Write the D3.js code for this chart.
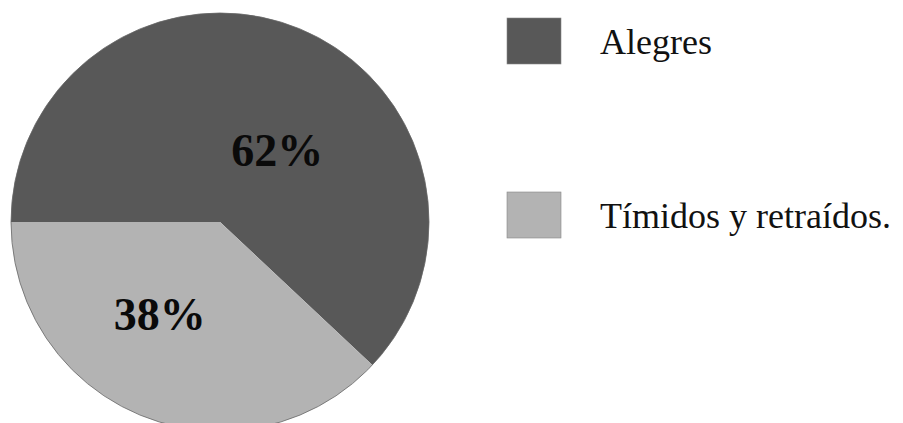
<!DOCTYPE html>
<html>
<head>
<meta charset="utf-8">
<script src="https://cdn.jsdelivr.net/npm/d3@7"></script>
<style>
  body { margin: 0; background: #fff; }
</style>
</head>
<body>
<div id="chart"></div>
<script>
const categories = ["Alegres", "Tímidos y retraídos."];
const percents = [62, 38];
const colors = ["#585858", "#b3b3b3"];

class PieChart {
  constructor(options) {
    this.options = Object.assign(this.defaultOptions(), options);
    this.data = categories.map((name, i) => ({ name: name, value: percents[i] }));
    this.svg = this.buildSvg();
    this.drawSlices();
    this.drawLabels();
    this.drawLegend();
  }

  defaultOptions() {
    return {
      width: 903,
      height: 423,
      cx: 220,
      cy: 222,
      radius: 209,
      font: "'Liberation Serif', 'Times New Roman', serif"
    };
  }

  buildSvg() {
    return d3.select(this.options.el).append("svg")
      .attr("width", this.options.width)
      .attr("height", this.options.height)
      .attr("viewBox", [0, 0, this.options.width, this.options.height]);
  }

  arcs() {
    // first slice starts at 9 o'clock and runs clockwise
    return d3.pie()
      .sort(null)
      .value(d => d.value)
      .startAngle(-Math.PI / 2)
      .endAngle(Math.PI * 1.5)(this.data);
  }

  drawSlices() {
    const o = this.options;
    const arc = d3.arc().innerRadius(0).outerRadius(o.radius);
    this.color = d3.scaleOrdinal().domain(categories).range(colors);
    const g = this.svg.append("g").attr("transform", `translate(${o.cx},${o.cy})`);
    g.selectAll("path")
      .data(this.arcs())
      .join("path")
      .attr("d", arc)
      .attr("fill", d => this.color(d.data.name));
    g.append("circle")
      .attr("r", o.radius)
      .attr("fill", "none")
      .attr("stroke", "#666")
      .attr("stroke-width", 0.8);
  }

  drawLabels() {
    const o = this.options;
    const labelArc = d3.arc().innerRadius(o.radius * 0.6).outerRadius(o.radius * 0.6);
    // labels sit off the centroids, as in the original
    const offsets = [[11, 61], [-14, -9]];
    this.svg.append("g")
      .attr("transform", `translate(${o.cx},${o.cy})`)
      .selectAll("text")
      .data(this.arcs())
      .join("text")
      .attr("x", (d, i) => labelArc.centroid(d)[0] + offsets[i][0])
      .attr("y", (d, i) => labelArc.centroid(d)[1] + offsets[i][1])
      .attr("text-anchor", "middle")
      .attr("font-family", o.font)
      .attr("font-weight", "bold")
      .attr("font-size", 46)
      .attr("fill", "#0a0a0a")
      .text(d => `${d.data.value}%`);
  }

  drawLegend() {
    const o = this.options;
    const y = d3.scalePoint().domain(categories).range([41, 215]);
    const item = this.svg.append("g")
      .selectAll("g")
      .data(categories)
      .join("g")
      .attr("transform", d => `translate(507,${y(d)})`);
    item.append("rect")
      .attr("x", 0)
      .attr("y", -23)
      .attr("width", 54)
      .attr("height", 46)
      .attr("fill", d => this.color(d))
      .attr("stroke", "#888")
      .attr("stroke-width", 0.6);
    item.append("text")
      .attr("x", 93)
      .attr("y", 13)
      .attr("font-family", o.font)
      .attr("font-size", 36)
      .attr("fill", "#111")
      .text(d => d);
  }
}

new PieChart({ el: "#chart" });
</script>
</body>
</html>
